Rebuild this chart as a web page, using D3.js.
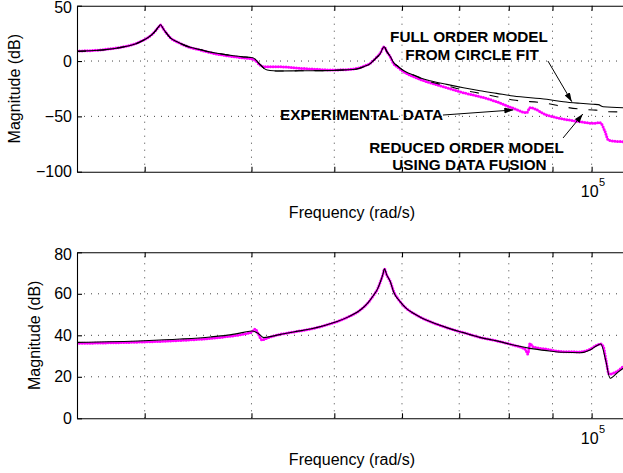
<!DOCTYPE html>
<html lang="en">
<head>
<meta charset="UTF-8">
<title>Magnitude vs frequency</title>
<script src="https://cdn.jsdelivr.net/npm/d3@7"></script>
<style>
    body { margin: 0; background: #fff; }
    svg { display: block; font-family: "Liberation Sans", Arial, sans-serif; }
    .grid line { stroke: #444; stroke-width: 1; stroke-dasharray: 1 6; }
    .axis path, .axis line { stroke: #000; stroke-width: 1.1; }
    .axis text { font-size: 16px; fill: #000; }
    .label { font-size: 16px; }
    .note { font-size: 15.3px; font-weight: bold; }
</style>
</head>
<body>
<svg id="canvas" width="623" height="473"></svg>
<script>
// frequencies in rad/s, magnitudes in dB
const xTicks = [3e4, 4e4, 5e4, 6e4, 7e4, 8e4, 9e4, 1e5];
const topTicks = [-100, -50, 0, 50];
const bottomTicks = [0, 20, 40, 60, 80];

// top panel - experimental data
const topExpFreq = [25000, 26500, 27300, 28000, 28600, 29300, 29900, 30300, 30600, 30900, 31160, 31300,
    31580, 31900, 32150, 32700, 33320, 34000, 34850, 35600, 36450, 37300, 38120, 39000, 39840, 40380,
    40930, 41490, 42850, 45590, 47500, 49830, 51500, 53130, 54200, 55060, 55800, 56570, 57180, 57600,
    58110, 58640, 59400, 60240, 61000, 61880, 63200, 64710, 67690, 70790, 74030, 77440, 80980, 83960,
    84710, 88620, 92670, 96930, 100470, 102290, 103700, 104600, 106030, 108930, 111000];
const topExpDb = [9.0, 9.9, 11.0, 12.2, 13.5, 15.8, 19, 21.5, 24, 27.5, 31, 32.5,
    28.5, 24, 21, 17.5, 14.5, 12, 10, 8, 6.3, 5, 3.9, 3, 2.2, 0.8,
    -3.6, -5.2, -5.1, -6.6, -7.4, -8.1, -7.8, -6.6, -4.5, -2.1, 2, 7, 12.9, 8.5,
    3.9, -2.1, -6, -9.6, -12, -14.1, -17, -19.6, -24.1, -28.6, -32.2, -36.8, -42.7, -46.7,
    -42.2, -48.8, -52.4, -54.8, -56.3, -55.7, -63.9, -71.4, -72.3, -72.9, -73];

// top panel - full order model from circle fit
const topFullFreq = [25000, 26500, 27300, 28000, 28600, 29300, 29900, 30300, 30600, 30900, 31160, 31300,
    31580, 31900, 32150, 32700, 33320, 34000, 34850, 35600, 36450, 37300, 38120, 39000, 39840, 40150,
    40930, 41490, 42050, 42850, 45590, 47500, 49830, 51500, 53130, 54200, 55060, 55800, 56570, 57180,
    57600, 58110, 58640, 59400, 60240, 61000, 61880, 63200, 64710, 67690, 70790, 74030, 77440, 80980,
    88620, 92670, 96930, 100470, 101800, 103200, 111000];
const topFullDb = [8.7, 9.7, 10.8, 12, 13.3, 15.6, 18.8, 21.5, 24, 27.5, 31.2, 32.8,
    28.5, 24, 21, 17.6, 14.6, 12.2, 10.3, 8.5, 7, 5.8, 4.8, 3.9, 3.3, 3.0,
    -3, -7.3, -8.6, -9, -8.8, -8.7, -8.5, -8, -7.2, -5, -2.4, 1.8, 6.6, 12.9,
    8.5, 4.3, -1.2, -5, -8.5, -10.8, -12.6, -15.5, -17.8, -21.1, -24.1, -26.8, -29.2, -31.6,
    -34.6, -36.8, -38.2, -39.1, -39.4, -41.3, -42.4];

// top panel - reduced order model using data fusion
const topRedFreq = [25000, 26500, 27300, 28000, 28600, 29300, 29900, 30300, 30600, 30900, 31160, 31300,
    31580, 31900, 32150, 32700, 33320, 34000, 34850, 35600, 36450, 37300, 38120, 39000, 39840, 40150,
    40930, 41490, 42050, 42850, 45590, 47500, 49830, 51500, 53130, 54200, 55060, 55800, 56570, 57180,
    57600, 58110, 58640, 59400, 60240, 61000, 61880, 63200, 64710, 67690, 70790, 74030, 77440, 80980,
    88620, 92670, 96930, 100470, 102300, 103800, 111000];
const topRedDb = [8.7, 9.7, 10.8, 12, 13.3, 15.6, 18.8, 21.5, 24, 27.5, 31.2, 32.8,
    28.5, 24, 21, 17.6, 14.6, 12.2, 10.3, 8.5, 7, 5.8, 4.8, 3.9, 3.3, 3.0,
    -3, -7.3, -8.6, -9, -8.8, -8.7, -8.5, -8, -7.2, -5, -2.4, 1.8, 6.6, 12.9,
    8.5, 4.3, -1.2, -5, -8.5, -10.8, -12.6, -16, -18.6, -22.3, -26.2, -29.2, -32.2, -35.2,
    -38.2, -41.3, -43.4, -44.3, -44.6, -45.8, -46];

// bottom panel - experimental data
const botExpFreq = [25000, 29930, 33000, 35800, 37500, 39170, 40050, 40400, 40700, 41150, 41490, 42850,
    44800, 46870, 48700, 50370, 52000, 53630, 54700, 55600, 56200, 56610, 57000, 57220, 57600, 58150,
    58640, 59700, 60700, 61880, 63200, 64710, 67690, 70790, 74030, 77440, 80980, 83190, 83750, 84200,
    84710, 85360, 88620, 92670, 96930, 99580, 101400, 102500, 103210, 103950, 104800, 107010, 108930,
    111000];
const botExpDb = [36.1, 36.8, 37.5, 38.5, 39.4, 40.6, 41.7, 43.0, 41.0, 37.7, 38.3, 40.1,
    41.6, 43.0, 44.7, 46.6, 49, 52.2, 55.5, 59.4, 62.5, 65.8, 69.5, 72, 69, 65.8,
    61.5, 56.2, 53, 50.6, 48.5, 46.6, 43.7, 41.3, 39.0, 37.3, 35.3, 33.7, 32.9, 31.0,
    36.1, 34.5, 33.3, 32.1, 32.0, 33.3, 35.2, 35.8, 34.5, 28.1, 21.3, 22.5, 24.9,
    26];

// bottom panel - model
const botModFreq = [25000, 29930, 33000, 35800, 37500, 39170, 40050, 40700, 41350, 42850, 44800, 46870,
    48700, 50370, 52000, 53630, 54700, 55600, 56200, 56610, 57000, 57220, 57600, 58150, 58640, 59700,
    60700, 61880, 63200, 64710, 67690, 70790, 74030, 77440, 80980, 84710, 88620, 92670, 96930, 99580,
    101400, 102500, 103950, 105080, 107010, 108930, 111000];
const botModDb = [36.6, 37.4, 38.2, 39.2, 40.1, 41.4, 42.1, 41.0, 38.9, 40.1, 41.6, 43.0,
    44.7, 46.6, 49, 52.2, 55.5, 59.4, 62.5, 65.8, 69.5, 72, 69, 65.8, 61, 56.2,
    53, 50.6, 48.5, 46.6, 43.7, 41.3, 39.0, 37.3, 35.3, 33.7, 32.6, 31.8, 31.6, 32.9,
    35.0, 35.8, 27.3, 19.3, 21.7, 24.1, 25];

const svg = d3.select('#canvas');
const left = 77, right = 627, ph = 166;
const x = d3.scaleLog().domain([25000, 110000]).range([left, right]);

const defs = svg.append('defs');
defs.append('marker')
    .attr('id', 'arrow').attr('viewBox', '0 0 9 6').attr('refX', 9).attr('refY', 3)
    .attr('markerWidth', 9).attr('markerHeight', 6).attr('markerUnits', 'userSpaceOnUse')
    .attr('orient', 'auto')
    .append('path').attr('d', 'M0,0L9,3L0,6Z').attr('fill', '#000');

const styles = {
    exp:  {stroke: '#ff00ff', width: 3, dash: '0 2.6', cap: 'round'},
    full: {stroke: '#000', width: 1.1, dash: null, cap: 'butt'},
    red:  {stroke: '#000', width: 1.1, dash: '9 11', cap: 'butt'}
};

function drawPanel(top, domain, ticks, series, ylabX) {
    const y = d3.scaleLinear().domain(domain).range([top + ph, top]);
    const g = svg.append('g');
    const clipId = 'clip' + Math.round(top);
    defs.append('clipPath').attr('id', clipId)
        .append('rect').attr('x', left).attr('y', top).attr('width', right - left).attr('height', ph);

    // dotted grid
    const grid = g.append('g').attr('class', 'grid');
    grid.selectAll('line.v').data(xTicks).enter().append('line').attr('class', 'v')
        .attr('x1', d => x(d)).attr('x2', d => x(d)).attr('y1', top + ph).attr('y2', top);
    grid.selectAll('line.h').data(ticks.filter(t => t > domain[0] && t < domain[1])).enter()
        .append('line').attr('class', 'h')
        .attr('x1', left).attr('x2', right).attr('y1', d => y(d)).attr('y2', d => y(d));

    // curves
    const line = d3.line().curve(d3.curveMonotoneX).x(d => x(d[0])).y(d => y(d[1]));
    const plot = g.append('g').attr('clip-path', `url(#${clipId})`);
    series.forEach(s => {
        const st = styles[s.kind];
        plot.append('path')
            .datum(s.freq.map((f, i) => [f, s.db[i]]))
            .attr('d', line)
            .attr('fill', 'none')
            .attr('stroke', st.stroke)
            .attr('stroke-width', st.width)
            .attr('stroke-linecap', st.cap)
            .attr('stroke-linejoin', 'round')
            .attr('stroke-dasharray', st.dash);
    });

    // axes, ticks pointing inward
    const ya = g.append('g').attr('class', 'axis').attr('transform', `translate(${left},0)`)
        .call(d3.axisLeft(y).tickValues(ticks).tickSizeInner(-5).tickSizeOuter(0).tickPadding(5));
    ya.selectAll('text').filter(d => d === domain[1]).attr('dy', '0.42em');
    g.append('g').attr('class', 'axis').attr('transform', `translate(0,${top + ph})`)
        .call(d3.axisBottom(x).tickValues(xTicks).tickFormat('').tickSizeInner(-5).tickSizeOuter(0));
    g.append('g').attr('class', 'axis').attr('transform', `translate(0,${top})`)
        .call(d3.axisTop(x).tickValues(xTicks).tickFormat('').tickSizeInner(-5).tickSizeOuter(0));

    // 10^5 label
    g.append('text').attr('font-size', 16)
        .attr('x', x(1e5) + 7).attr('y', top + ph + 25.3).attr('text-anchor', 'end').text('10');
    g.append('text').attr('font-size', 11)
        .attr('x', x(1e5) + 7.3).attr('y', top + ph + 14.5).text('5');

    g.append('text').attr('class', 'label').attr('text-anchor', 'middle')
        .attr('x', (left + right) / 2).attr('y', top + ph + 46.5).text('Frequency (rad/s)');
    g.append('text').attr('class', 'label').attr('text-anchor', 'middle')
        .attr('transform', `translate(${ylabX},${top + ph / 2}) rotate(-90)`).text('Magnitude (dB)');
    return y;
}

const yTop = drawPanel(5.7, [-100, 50], topTicks, [
    {kind: 'exp', freq: topExpFreq, db: topExpDb},
    {kind: 'full', freq: topFullFreq, db: topFullDb},
    {kind: 'red', freq: topRedFreq, db: topRedDb}
], 20);

drawPanel(252.3, [0, 80], bottomTicks, [
    {kind: 'exp', freq: botExpFreq, db: botExpDb},
    {kind: 'full', freq: botModFreq, db: botModDb}
], 40);

// annotations in data units of the top panel
const notes = [
    {text: 'FULL ORDER MODEL', f: 71870, db: 17.6, anchor: 'middle'},
    {text: 'FROM CIRCLE FIT', f: 72460, db: 0.9, anchor: 'middle'},
    {text: 'EXPERIMENTAL DATA', f: 67000, db: -53.3, anchor: 'end'},
    {text: 'REDUCED ORDER MODEL', f: 71390, db: -83.1, anchor: 'middle'},
    {text: 'USING DATA FUSION', f: 71960, db: -98.5, anchor: 'middle'}
];
const arrows = [
    {from: [88900, 0], to: [94800, -36.7]},
    {from: [67000, -48.8], to: [80980, -44.2]},
    {from: [92600, -69.5], to: [97650, -47.9]}
];

svg.append('g').selectAll('text').data(notes).enter().append('text')
    .attr('class', 'note')
    .attr('x', d => x(d.f)).attr('y', d => yTop(d.db))
    .attr('text-anchor', d => d.anchor)
    .text(d => d.text);

svg.append('g').selectAll('line').data(arrows).enter().append('line')
    .attr('x1', d => x(d.from[0])).attr('y1', d => yTop(d.from[1]))
    .attr('x2', d => x(d.to[0])).attr('y2', d => yTop(d.to[1]))
    .attr('stroke', '#000').attr('stroke-width', 1)
    .attr('marker-end', 'url(#arrow)');
</script>
</body>
</html>
